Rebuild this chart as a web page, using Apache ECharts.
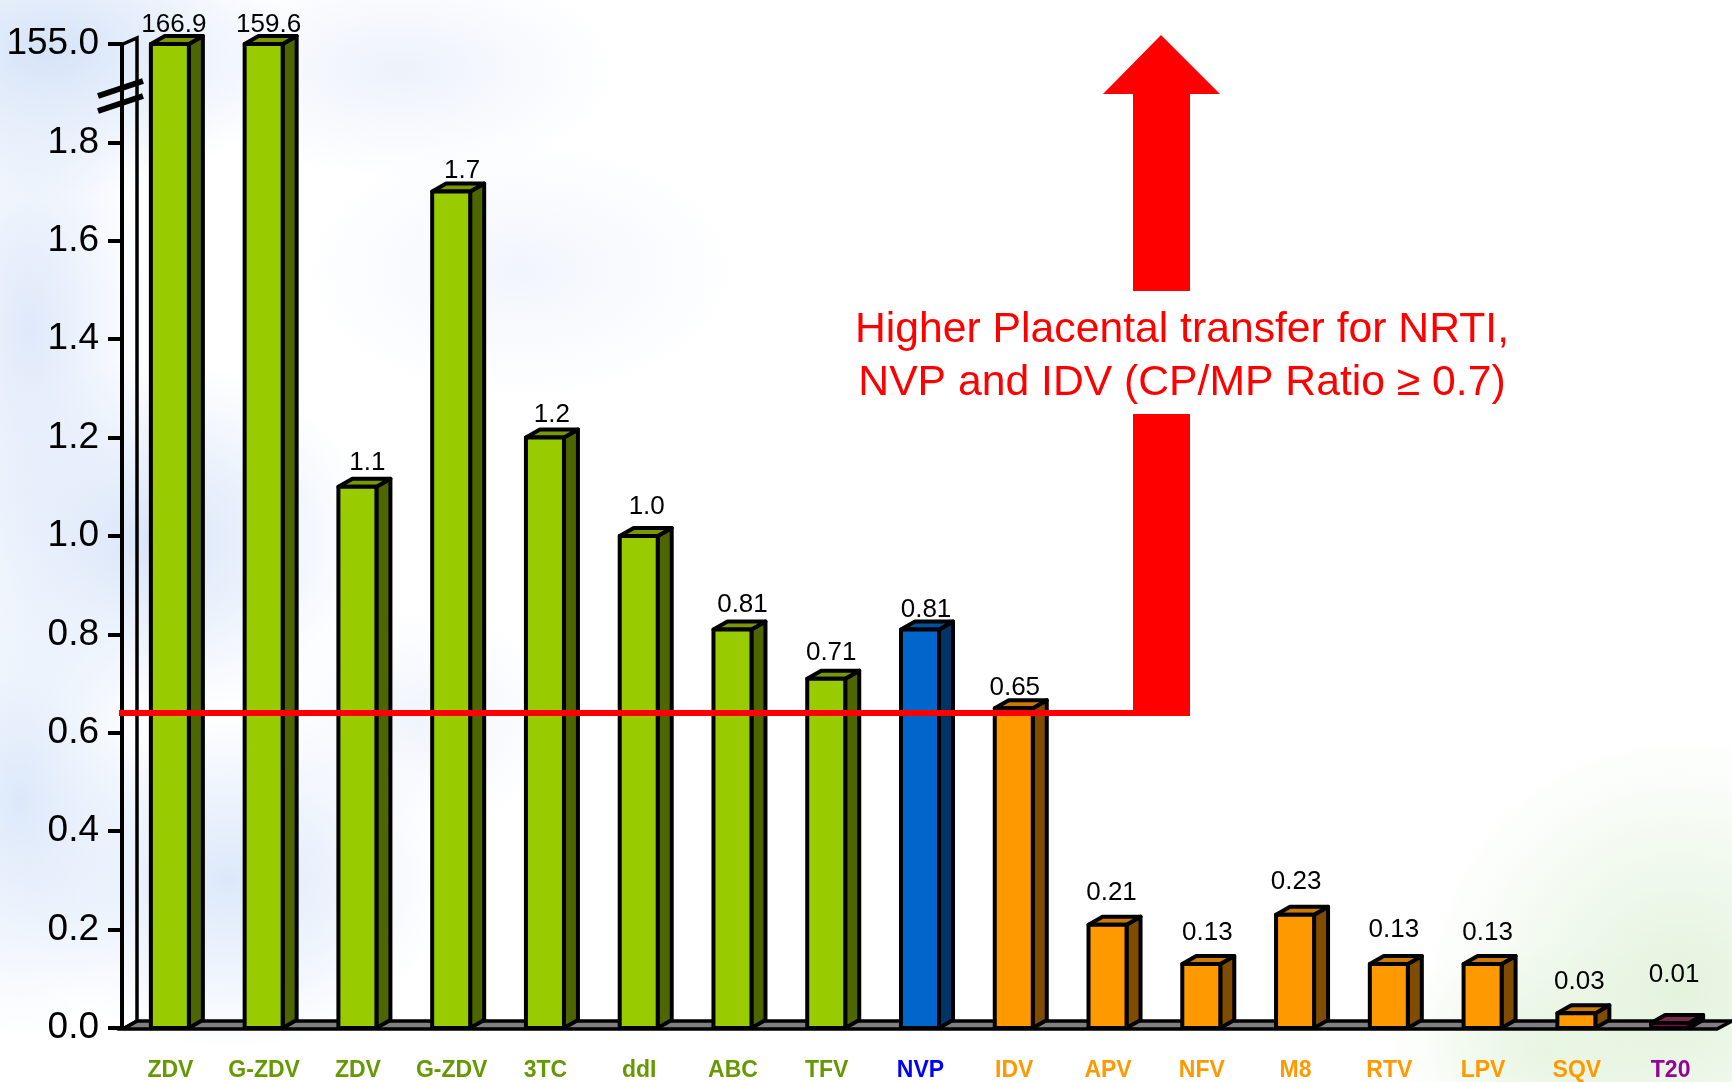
<!DOCTYPE html>
<html>
<head>
<meta charset="utf-8">
<style>
  html, body { margin: 0; padding: 0; width: 1732px; height: 1082px; overflow: hidden; background: #fff; }
  #bg { position: absolute; left: 0; top: 0; width: 1732px; height: 1082px;
    background:
      radial-gradient(ellipse 240px 150px at 50px 50px, #d5e3f8 0%, rgba(213,227,248,0) 100%),
      radial-gradient(ellipse 220px 110px at 400px 70px, #edf2fb 0%, rgba(237,242,251,0) 100%),
      radial-gradient(ellipse 120px 280px at 30px 330px, #dfe9fa 0%, rgba(223,233,250,0) 100%),
      radial-gradient(ellipse 230px 180px at 150px 540px, #d8e5f9 0%, rgba(216,229,249,0) 100%),
      radial-gradient(ellipse 220px 130px at 520px 270px, #f1f5fc 0%, rgba(241,245,252,0) 100%),
      radial-gradient(ellipse 220px 170px at 230px 880px, #dce8fa 0%, rgba(220,232,250,0) 100%),
      radial-gradient(ellipse 130px 240px at 20px 800px, #dce8fa 0%, rgba(220,232,250,0) 100%),
      radial-gradient(ellipse 150px 110px at 420px 720px, #f0f4fc 0%, rgba(240,244,252,0) 100%),
      radial-gradient(ellipse 260px 260px at 1680px 990px, #e3f3dd 0%, rgba(227,243,221,0) 100%),
      radial-gradient(ellipse 170px 110px at 1550px 1050px, #ecf7e7 0%, rgba(236,247,231,0) 100%);
  }
  #main { position: absolute; left: 0; top: 0; width: 1732px; height: 1082px; }
</style>
</head>
<body>
<div id="bg"></div>
<div id="main"></div>
<script src="https://cdn.jsdelivr.net/npm/echarts@6/dist/echarts.min.js"></script>
<script>
const categories = ['ZDV', 'G-ZDV', 'ZDV', 'G-ZDV', '3TC', 'ddI', 'ABC', 'TFV', 'NVP', 'IDV', 'APV', 'NFV', 'M8', 'RTV', 'LPV', 'SQV', 'T20']
const ratios = [166.9, 159.6, 1.1, 1.7, 1.2, 1.0, 0.81, 0.71, 0.81, 0.65, 0.21, 0.13, 0.23, 0.13, 0.13, 0.03, 0.01]
const ratioLabels = ['166.9', '159.6', '1.1', '1.7', '1.2', '1.0', '0.81', '0.71', '0.81', '0.65', '0.21', '0.13', '0.23', '0.13', '0.13', '0.03', '0.01']
const drugClass = ['nrti', 'nrti', 'nrti', 'nrti', 'nrti', 'nrti', 'nrti', 'nrti', 'nnrti', 'pi', 'pi', 'pi', 'pi', 'pi', 'pi', 'pi', 'fi']
const thresholdRatio = 0.64

// the axis is cut above 1.8: its last tick stands for 155.0 and tall bars stop there
const brokenTick = 2.0
const brokenTickLabel = '155.0'

// bar labels are not placed regularly in the original
const labelLift = [11, 11, 16, 13, 15, 21, 17, 18, 12, 12, 24, 23, 25, 26, 23, 23, 40]
const labelShift = [-1, 0, 5, 6, 2, 3, 5, 0, 1, -4, -1, 1, -4, 0, 0, -2, -1]

const palette = {
  nrti: { front: '#99CC00', side: '#4D6600', top: '#7A9900', text: '#669900' },
  nnrti: { front: '#0066CC', side: '#003366', top: '#00529F', text: '#0000FF' },
  pi: { front: '#FF9900', side: '#7F4C00', top: '#CC7A00', text: '#FF9900' },
  fi: { front: '#99004D', side: '#4D0026', top: '#7A2850', text: '#990099' }
}

const fontName = '"Liberation Sans", Arial, sans-serif'
const barWidth = 38
const depthX = 14
const depthY = 8
const edge = 4

function renderBar(params, api) {
  const i = api.value(0)
  const v = Math.min(api.value(1), brokenTick)
  const top = api.coord([i, v])
  const base = api.coord([i, 0])
  const c = palette[drugClass[i]]
  const l = top[0] - barWidth / 2 + 1
  const r = l + barWidth
  const t = top[1]
  const b = base[1]
  const line = { stroke: '#000', lineWidth: edge, lineJoin: 'round' }
  return {
    type: 'group',
    children: [
      { type: 'polygon', shape: { points: [[r, t], [r + depthX, t - depthY], [r + depthX, b - depthY], [r, b]] }, style: { fill: c.side, ...line } },
      { type: 'polygon', shape: { points: [[l, t], [l + depthX, t - depthY], [r + depthX, t - depthY], [r, t]] }, style: { fill: c.top, ...line } },
      { type: 'rect', shape: { x: l, y: t, width: barWidth, height: b - t }, style: { fill: c.front, ...line } },
      {
        type: 'text',
        x: l + barWidth / 2 + 5 + labelShift[i],
        y: t - depthY - labelLift[i],
        style: { text: ratioLabels[i], fill: '#000', font: '26px ' + fontName, align: 'center', verticalAlign: 'middle' }
      }
    ]
  }
}

function renderThreshold(params, api) {
  const y = api.coord([0, api.value(1)])[1]
  return {
    type: 'line',
    shape: { x1: 119, y1: y, x2: 1168, y2: y },
    style: { stroke: '#FF0000', lineWidth: 6 }
  }
}

const chart = echarts.init(document.getElementById('main'))
chart.setOption({
  backgroundColor: 'transparent',
  animation: false,
  grid: { left: 122, right: 16, top: 44, bottom: 53 },
  xAxis: {
    type: 'category',
    data: categories,
    axisLine: { lineStyle: { color: '#000', width: 4 } },
    axisTick: { length: 14, lineStyle: { color: '#000', width: 4 } },
    axisLabel: {
      interval: 0,
      margin: 31,
      padding: [0, 0, 0, 3],
      fontFamily: fontName,
      fontSize: 23,
      fontWeight: 'bold',
      color: (value, index) => palette[drugClass[index]].text
    }
  },
  yAxis: {
    type: 'value',
    min: 0,
    max: brokenTick,
    interval: 0.2,
    splitLine: { show: false },
    axisLine: { show: true, lineStyle: { color: '#000', width: 4 } },
    axisTick: { show: true, length: 14, lineStyle: { color: '#000', width: 4 } },
    axisLabel: {
      margin: 23,
      padding: [7, 0, 0, 0],
      fontFamily: fontName,
      fontSize: 37,
      color: '#000',
      formatter: v => (v >= brokenTick ? brokenTickLabel : v.toFixed(1))
    }
  },
  series: [
    {
      type: 'custom',
      renderItem: renderBar,
      clip: false,
      z: 3,
      data: categories.map((c, i) => [i, ratios[i]])
    },
    {
      type: 'custom',
      renderItem: renderThreshold,
      clip: false,
      z: 4,
      data: [[0, thresholdRatio]]
    }
  ],
  graphic: [
    // floor of the 3d plot
    { type: 'polygon', z: 1, shape: { points: [[123, 1029], [137, 1021], [1732, 1021], [1717, 1029]] }, style: { fill: '#808080', stroke: '#000', lineWidth: 3.5 } },
    // back wall edge
    { type: 'polyline', z: 1, shape: { points: [[123, 1029], [137, 1021], [137, 38], [123, 44]] }, style: { fill: 'none', stroke: '#000', lineWidth: 3.5 } },
    // axis break marks
    { type: 'line', z: 5, shape: { x1: 98, y1: 96, x2: 143, y2: 81 }, style: { stroke: '#000', lineWidth: 6 } },
    { type: 'line', z: 5, shape: { x1: 98, y1: 111, x2: 143, y2: 96 }, style: { stroke: '#000', lineWidth: 6 } },
    // arrow
    { type: 'polygon', z: 6, shape: { points: [[1161, 35], [1220, 94], [1190, 94], [1190, 291], [1133, 291], [1133, 94], [1103, 94]] }, style: { fill: '#FF0000' } },
    { type: 'rect', z: 6, shape: { x: 1133, y: 414, width: 57, height: 302 }, style: { fill: '#FF0000' } },
    { type: 'text', z: 6, x: 1182, y: 330, style: { text: 'Higher Placental transfer for NRTI,', fill: '#FF0000', font: '42.7px ' + fontName, align: 'center', verticalAlign: 'middle' } },
    { type: 'text', z: 6, x: 1182, y: 383, style: { text: 'NVP and IDV (CP/MP Ratio ≥ 0.7)', fill: '#FF0000', font: '42.7px ' + fontName, align: 'center', verticalAlign: 'middle' } }
  ]
})
</script>
</body>
</html>
